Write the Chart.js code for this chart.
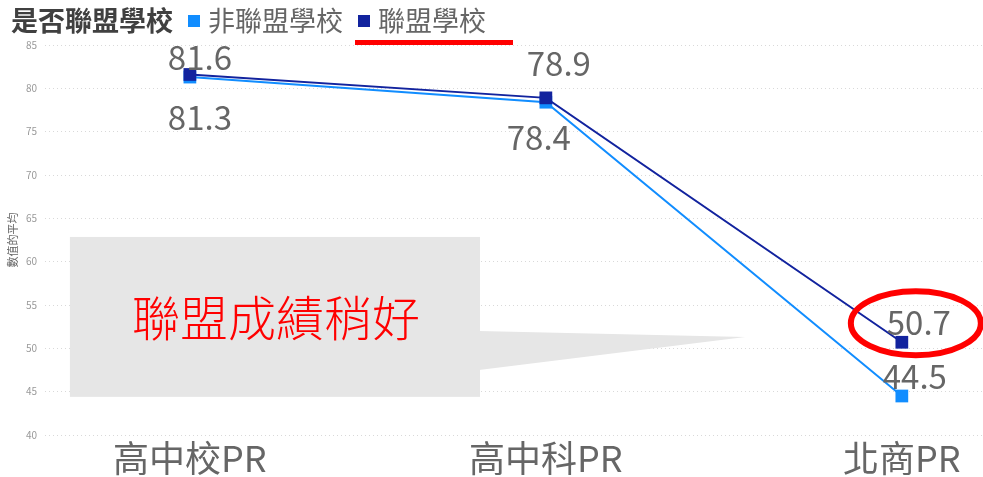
<!DOCTYPE html>
<html>
<head>
<meta charset="utf-8">
<script src="https://cdn.jsdelivr.net/npm/chart.js@4"></script>
<style>
  html, body { margin: 0; padding: 0; background: #fff; }
  #wrap { width: 983px; height: 477px; }
</style>
</head>
<body>
<div id="wrap"><canvas id="prChart" width="983" height="477"></canvas></div>
<script>
const categories = ['高中校PR', '高中科PR', '北商PR'];
const nonLeague = [81.3, 78.4, 44.5];
const league = [81.6, 78.9, 50.7];
const yTicks = [40, 45, 50, 55, 60, 65, 70, 75, 80, 85];

const CJK = '"Noto Sans CJK TC", "Noto Sans", sans-serif';
const LIGHT = '#118DFF';
const DARK = '#12239E';

// x is a linear scale so the category positions can sit off-centre
const toPoints = arr => arr.map((v, i) => ({ x: i, y: v }));

// legend row + red underline under the league item
const legendRow = {
    id: 'legendRow',
    afterDraw(chart) {
        const ctx = chart.ctx;
        ctx.save();
        ctx.textBaseline = 'middle';
        ctx.font = 'bold 27px ' + CJK;
        ctx.fillStyle = '#404040';
        ctx.fillText('是否聯盟學校', 11, 21);
        const items = [
            { x: 188, color: LIGHT, text: chart.data.datasets[0].label },
            { x: 358, color: DARK, text: chart.data.datasets[1].label }
        ];
        ctx.font = '27px ' + CJK;
        items.forEach(it => {
            ctx.fillStyle = it.color;
            ctx.fillRect(it.x, 15, 12, 12);
            ctx.fillStyle = '#666';
            ctx.fillText(it.text, it.x + 20, 21);
        });
        ctx.fillStyle = '#FF0000';
        ctx.fillRect(355, 40, 158, 5);
        ctx.restore();
    }
};

// value labels beside each point
const pointLabels = {
    id: 'pointLabels',
    afterDatasetsDraw(chart, args, opts) {
        const ctx = chart.ctx;
        ctx.save();
        ctx.font = '33px ' + CJK;
        ctx.fillStyle = '#666';
        ctx.textAlign = 'center';
        ctx.textBaseline = 'middle';
        chart.data.datasets.forEach((ds, di) => {
            const meta = chart.getDatasetMeta(di);
            meta.data.forEach((pt, i) => {
                const off = opts.offsets[di][i];
                ctx.fillText(ds.data[i].y.toFixed(1), pt.x + off[0], pt.y + off[1]);
            });
        });
        ctx.restore();
    }
};

// grey callout and red ring
const callout = {
    id: 'callout',
    beforeDatasetsDraw(chart) {
        const ctx = chart.ctx;
        const xs = chart.scales.x, ys = chart.scales.y;
        const left = xs.getPixelForValue(-0.337), right = xs.getPixelForValue(0.815);
        const top = ys.getPixelForValue(62.85), bottom = ys.getPixelForValue(44.4);
        ctx.save();
        ctx.fillStyle = '#E6E6E6';
        ctx.fillRect(left, top, right - left, bottom - top);
        ctx.beginPath();
        ctx.moveTo(right - 1, ys.getPixelForValue(52.0));
        ctx.lineTo(xs.getPixelForValue(1.56), ys.getPixelForValue(51.3));
        ctx.lineTo(right - 1, ys.getPixelForValue(47.5));
        ctx.closePath();
        ctx.fill();
        ctx.font = '300 48px ' + CJK;
        ctx.fillStyle = '#FF0000';
        ctx.textAlign = 'center';
        ctx.textBaseline = 'middle';
        ctx.fillText('聯盟成績稍好', (left + right) / 2 + 1, ys.getPixelForValue(53.5));
        ctx.restore();
    },
    afterDraw(chart) {
        const pt = chart.getDatasetMeta(1).data[2];
        const ctx = chart.ctx;
        ctx.save();
        ctx.strokeStyle = '#FF0000';
        ctx.lineWidth = 6;
        ctx.beginPath();
        ctx.ellipse(pt.x + 14, pt.y - 19, 65, 32, 0, 0, Math.PI * 2);
        ctx.stroke();
        ctx.restore();
    }
};

new Chart(document.getElementById('prChart'), {
    type: 'line',
    data: {
        datasets: [
            {
                label: '非聯盟學校',
                data: toPoints(nonLeague),
                order: 1,
                borderColor: LIGHT,
                backgroundColor: LIGHT,
                borderWidth: 2,
                pointStyle: 'rect',
                pointRadius: 9,
                pointBorderWidth: 0
            },
            {
                label: '聯盟學校',
                data: toPoints(league),
                order: 0,
                borderColor: DARK,
                backgroundColor: DARK,
                borderWidth: 2,
                pointStyle: 'rect',
                pointRadius: 9,
                pointBorderWidth: 0
            }
        ]
    },
    options: {
        responsive: false,
        animation: false,
        layout: { autoPadding: false, padding: { top: 45, right: 0, left: 0, bottom: 0 } },
        plugins: {
            legend: { display: false },
            tooltip: { enabled: false },
            pointLabels: {
                offsets: [
                    [[10, 40], [-7, 35], [13, -20]],
                    [[10, -17], [13, -34], [17, -20]]
                ]
            }
        },
        scales: {
            x: {
                type: 'linear',
                min: -0.407,
                max: 2.228,
                afterBuildTicks: s => { s.ticks = categories.map((c, i) => ({ value: i })); },
                afterFit: s => { s.height = 42; s.paddingRight = 0; s.paddingLeft = 0; },
                grid: { display: false },
                border: { display: false },
                ticks: {
                    callback: v => categories[v],
                    color: '#666',
                    padding: -6,
                    maxRotation: 0,
                    autoSkip: false,
                    font: { size: 36, family: CJK }
                }
            },
            y: {
                min: 40,
                max: 85,
                afterBuildTicks: s => { s.ticks = yTicks.map(v => ({ value: v })); },
                afterFit: s => { s.width = 45; },
                grid: { color: '#D9D9D9', drawTicks: false, lineWidth: 1 },
                border: { display: false, dash: [1, 3] },
                ticks: {
                    color: '#999',
                    padding: 8,
                    font: { size: 10, family: CJK }
                },
                title: {
                    display: true,
                    text: '數值的平均',
                    color: '#666',
                    padding: { top: 6, bottom: 0 },
                    font: { size: 11, family: CJK }
                }
            }
        }
    },
    plugins: [legendRow, pointLabels, callout]
});
</script>
</body>
</html>
